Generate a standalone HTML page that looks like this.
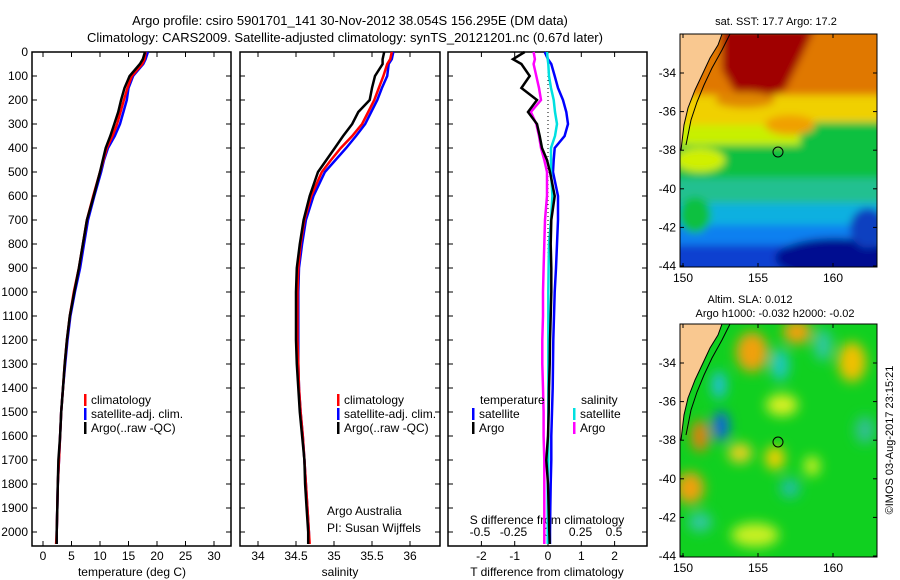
<!DOCTYPE html>
<html><head><meta charset="utf-8">
<style>
body{margin:0;background:#fff;}
svg{display:block;font-family:"Liberation Sans",sans-serif;}
text{fill:#000;}
</style></head>
<body>
<svg id="chart" width="900" height="580" viewBox="0 0 900 580" xmlns="http://www.w3.org/2000/svg">
<defs>
<filter id="blur6" x="-20%" y="-20%" width="140%" height="140%"><feGaussianBlur stdDeviation="6"/></filter>
<filter id="blur4" x="-20%" y="-20%" width="140%" height="140%"><feGaussianBlur stdDeviation="4"/></filter>
<clipPath id="clipA"><rect x="680" y="34" width="197" height="233"/></clipPath>
<clipPath id="clipB"><rect x="680" y="324" width="197" height="233"/></clipPath>
</defs>
<text x="350" y="25" font-size="13" text-anchor="middle">Argo profile: csiro 5901701_141 30-Nov-2012 38.054S 156.295E (DM data)</text>
<text x="345" y="42" font-size="13" text-anchor="middle">Climatology: CARS2009. Satellite-adjusted climatology: synTS_20121201.nc (0.67d later)</text>
<g id="panels"></g>

<!-- SST map -->
<g>
<text x="776" y="25" font-size="11" text-anchor="middle">sat. SST: 17.7 Argo: 17.2</text>
<g clip-path="url(#clipA)">
<rect x="680" y="34" width="197" height="233" fill="#10c8b0"/>
<g filter="url(#blur4)">
<rect x="670" y="20" width="220" height="85" fill="#e07800"/>
<rect x="670" y="95" width="220" height="40" fill="#f0d000"/>
<rect x="670" y="125" width="220" height="20" fill="#c8f000"/>
<rect x="670" y="145" width="220" height="35" fill="#10c040"/>
<rect x="800" y="122" width="90" height="30" fill="#10c040"/>
<rect x="670" y="178" width="220" height="25" fill="#20c090"/>
<rect x="670" y="203" width="220" height="25" fill="#10b0e0"/>
<rect x="670" y="225" width="220" height="25" fill="#1080f0"/>
<rect x="670" y="245" width="220" height="30" fill="#1040d0"/>
<ellipse cx="835" cy="258" rx="60" ry="20" fill="#000a90"/>
<ellipse cx="868" cy="228" rx="18" ry="20" fill="#1040c0"/>
<ellipse cx="695" cy="215" rx="16" ry="18" fill="#10c040"/>
<path d="M722 28 L815 28 L800 60 L785 90 L760 100 L735 92 L722 70 Z" fill="#a00000"/>
<ellipse cx="745" cy="100" rx="30" ry="8" fill="#e08800"/>
<ellipse cx="790" cy="125" rx="25" ry="10" fill="#f0a000"/>
<ellipse cx="700" cy="160" rx="25" ry="12" fill="#d0f000"/>
</g>
<path d="M680 34 L722 34 L718 45 L710 58 L703 73 L695 90 L688 108 L684 125 L681 150 L680 150 Z" fill="#f9c890" stroke="#000" stroke-width="1"/>
<path d="M730 34 L722 50 L712 68 L704 85 L697 102 L691 120 L686 145" fill="none" stroke="#000" stroke-width="1"/>
</g>
<rect x="680" y="34" width="197" height="233" fill="none" stroke="#000"/>
<circle cx="778" cy="152" r="5" fill="none" stroke="#000"/>
</g>

<!-- SLA map -->
<g>
<text x="750" y="303" font-size="11" text-anchor="middle">Altim. SLA: 0.012</text>
<text x="775" y="317" font-size="11" text-anchor="middle">Argo h1000: -0.032 h2000: -0.02</text>
<g clip-path="url(#clipB)">
<rect x="680" y="324" width="197" height="233" fill="#10d020"/>
<g filter="url(#blur6)">
<ellipse cx="752" cy="352" rx="16" ry="20" fill="#f0a010"/>
<ellipse cx="797" cy="332" rx="14" ry="12" fill="#f0a010"/>
<ellipse cx="852" cy="362" rx="14" ry="20" fill="#f0c000"/>
<ellipse cx="780" cy="365" rx="9" ry="16" fill="#20c8c0"/>
<ellipse cx="823" cy="345" rx="9" ry="16" fill="#30c8a0"/>
<ellipse cx="719" cy="385" rx="7" ry="14" fill="#20c0e0"/>
<ellipse cx="721" cy="426" rx="8" ry="15" fill="#1060e0"/>
<ellipse cx="700" cy="436" rx="9" ry="16" fill="#e08010"/>
<ellipse cx="782" cy="405" rx="16" ry="11" fill="#d8f020"/>
<ellipse cx="740" cy="453" rx="12" ry="10" fill="#e8d020"/>
<ellipse cx="775" cy="458" rx="10" ry="12" fill="#f0d000"/>
<ellipse cx="812" cy="466" rx="8" ry="10" fill="#c8f020"/>
<ellipse cx="690" cy="488" rx="14" ry="16" fill="#f0a010"/>
<ellipse cx="790" cy="488" rx="10" ry="10" fill="#20c0a0"/>
<ellipse cx="700" cy="522" rx="12" ry="10" fill="#30c8a0"/>
<ellipse cx="755" cy="535" rx="24" ry="12" fill="#c8f020"/>
<ellipse cx="865" cy="430" rx="10" ry="14" fill="#30c090"/>
</g>
<path d="M680 324 L722 324 L718 335 L710 348 L703 363 L695 380 L688 398 L684 415 L681 440 L680 440 Z" fill="#f9c890" stroke="#000" stroke-width="1"/>
<path d="M730 324 L722 340 L712 358 L704 375 L697 392 L691 410 L686 435" fill="none" stroke="#000" stroke-width="1"/>
</g>
<rect x="680" y="324" width="197" height="233" fill="none" stroke="#000"/>
<circle cx="778" cy="442" r="5" fill="none" stroke="#000"/>
</g>
<text transform="translate(893,440) rotate(-90)" font-size="11" text-anchor="middle">©IMOS 03-Aug-2017 23:15:21</text>
</svg>
<script>
// ---- data ----
const depths = [0,30,50,100,150,200,250,300,350,400,450,500,600,700,800,900,1000,1100,1200,1300,1400,1500,1600,1700,1800,1900,2000,2050];
const tempClim = [18.0,17.8,17.4,15.6,14.8,14.2,13.6,13.0,12.2,11.2,10.6,10.0,8.8,7.7,7.0,6.3,5.4,4.7,4.2,3.8,3.5,3.2,3.0,2.8,2.6,2.5,2.4,2.3];
const tempSat  = [18.4,18.0,17.6,15.8,15.0,14.7,14.1,13.5,12.6,11.4,10.7,10.2,9.0,7.9,7.2,6.5,5.6,4.8,4.3,3.9,3.5,3.2,3.0,2.8,2.6,2.5,2.4,2.4];
const tempArgo = [17.9,17.5,17.0,15.2,14.3,13.7,13.2,12.5,11.8,11.0,10.5,10.0,8.9,7.7,7.0,6.3,5.5,4.7,4.2,3.8,3.5,3.2,3.0,2.7,2.6,2.5,2.4,2.4];
const salClim = [35.76,35.74,35.70,35.65,35.59,35.53,35.45,35.37,35.24,35.09,34.96,34.84,34.70,34.61,34.56,34.53,34.52,34.52,34.52,34.53,34.54,34.56,34.59,34.61,34.63,34.65,34.67,34.68];
const salSat  = [35.78,35.76,35.72,35.70,35.63,35.57,35.49,35.41,35.29,35.16,35.02,34.88,34.73,34.63,34.58,34.54,34.53,34.53,34.53,34.53,34.54,34.56,34.59,34.61,34.63,34.65,34.67,34.67];
const salArgo = [35.66,35.64,35.64,35.54,35.50,35.47,35.32,35.24,35.12,35.01,34.90,34.79,34.68,34.60,34.55,34.51,34.50,34.50,34.50,34.51,34.53,34.55,34.58,34.61,34.62,34.64,34.66,34.66];
const tDiffSat  = [-0.1,0.0,0.1,0.2,0.3,0.45,0.55,0.6,0.5,0.2,0.17,0.15,0.3,0.3,0.27,0.24,0.2,0.18,0.16,0.15,0.14,0.12,0.1,0.1,0.08,0.07,0.06,0.06];
const tDiffArgo = [-0.7,-1.05,-0.8,-0.55,-0.8,-0.33,-0.6,-0.33,-0.25,-0.18,-0.03,0.06,0.2,0.1,0.08,0.1,0.1,0.08,0.06,0.05,0.03,0.02,0.0,-0.05,0.0,0.02,0.04,0.05];
const sDiffSat  = [0.0,0.005,0.01,0.015,0.03,0.05,0.06,0.075,0.06,0.03,0.03,0.03,0.04,0.03,0.015,0.012,0.01,0.01,0.01,0.01,0.01,0.01,0.01,0.01,0.005,0.005,0.005,0.005];
const sDiffArgo = [-0.1,-0.09,-0.1,-0.08,-0.06,-0.045,-0.12,-0.08,-0.06,-0.045,-0.02,0.0,0.0,-0.015,-0.02,-0.025,-0.03,-0.03,-0.035,-0.035,-0.03,-0.025,-0.025,-0.02,-0.02,-0.02,-0.02,-0.02];
const depthTicks = [0,100,200,300,400,500,600,700,800,900,1000,1100,1200,1300,1400,1500,1600,1700,1800,1900,2000];
const tempTicks = [0,5,10,15,20,25,30];
const salTicks = [34,34.5,35,35.5,36];
const tDiffTicks = [-2,-1,0,1,2];
const sDiffTicks = [-0.5,-0.25,0,0.25,0.5];
const latTicks = [-34,-36,-38,-40,-42,-44];
const lonTicks = [150,155,160];

// ---- scales ----
const NS="http://www.w3.org/2000/svg";
const yD = d => 52 + d*0.24;
const xT = v => 43 + v*5.7;
const xS = v => 258 + (v-34)*76;
const xTD = v => 548 + v*33.3;
const xSD = v => 547 + v*134;
const latY1 = l => 73 + (-34 - l)*19.3;
const latY2 = l => 363 + (-34 - l)*19.3;
const lonX = l => 683 + (l-150)*15;
const g = document.getElementById('panels');
const svg = document.getElementById('chart');
function mk(tag, attrs, parent){const e=document.createElementNS(NS,tag);for(const k in attrs)e.setAttribute(k,attrs[k]);(parent||g).appendChild(e);return e;}
function txt(x,y,s,anchor,size,parent){const t=mk('text',{x:x,y:y,'font-size':size||12,'text-anchor':anchor||'middle'},parent);t.textContent=s;return t;}

const panels=[{x0:32,x1:231,name:'temperature-panel'},{x0:240,x1:440,name:'salinity-panel'},{x0:448,x1:647,name:'difference-panel'}];
const yBottom=546;
panels.forEach(p=>{
  const r=mk('rect',{x:p.x0,y:52,width:p.x1-p.x0,height:yBottom-52,fill:'none',stroke:'#000','stroke-width':1.5});
  
  
  depthTicks.forEach(d=>{
    mk('line',{x1:p.x0,x2:p.x0+5,y1:yD(d),y2:yD(d),stroke:'#000'});
    mk('line',{x1:p.x1-5,x2:p.x1,y1:yD(d),y2:yD(d),stroke:'#000'});
  });
});
depthTicks.forEach(d=>{
  const t=txt(28,yD(d)+4,String(d),'end',12);
  
  
});
function xticks(arr,fx,labelY){
  arr.forEach(v=>{
    const x=fx(v);
    mk('line',{x1:x,x2:x,y1:52,y2:57,stroke:'#000'});
    mk('line',{x1:x,x2:x,y1:yBottom-5,y2:yBottom,stroke:'#000'});
    const t=txt(x,labelY,String(v),'middle',12);
    
    
  });
}
xticks(tempTicks,xT,560);
xticks(salTicks,xS,560);
xticks(tDiffTicks,xTD,560);
sDiffTicks.forEach(v=>{
  const t=txt(xSD(v),536,String(v),'middle',12);
  
  
});
let at;
at=txt(132,576,'temperature (deg C)');


at=txt(340,576,'salinity');


at=txt(547,576,'T difference from climatology');


at=txt(547,524,'S difference from climatology');


at=txt(327,515,'Argo Australia','start');


at=txt(327,532,'PI: Susan Wijffels','start');



const zl=mk('line',{x1:xTD(0),x2:xTD(0),y1:yD(0),y2:yD(2050),stroke:'#000','stroke-dasharray':'1,3'});



function series(vals,fx,color,name){
  const pts=vals.map((v,i)=>fx(v).toFixed(1)+','+yD(depths[i]).toFixed(1)).join(' ');
  const pl=mk('polyline',{points:pts,fill:'none',stroke:color,'stroke-width':2.5});
  
  
}
series(tempSat,xT,'#0000ff','temp-satellite-line');
series(tempClim,xT,'#ff0000','temp-climatology-line');
series(tempArgo,xT,'#000','temp-argo-line');
series(salSat,xS,'#0000ff','sal-satellite-line');
series(salClim,xS,'#ff0000','sal-climatology-line');
series(salArgo,xS,'#000','sal-argo-line');
series(tDiffSat,xTD,'#0000ff','tdiff-satellite-line');
series(sDiffSat,xSD,'#00e0e0','sdiff-satellite-line');
series(sDiffArgo,xSD,'#ff00ff','sdiff-argo-line');
series(tDiffArgo,xTD,'#000','tdiff-argo-line');

function legend(x,y,items){
  items.forEach((it,i)=>{
    const yy=y+i*14;
    const m=mk('rect',{x:x,y:yy-10,width:2.5,height:12,fill:it[1]});
    
    
    const t=txt(x+7,yy,it[0],'start',12);
    
    
  });
}
legend(84,404,[['climatology','#f00'],['satellite-adj. clim.','#00f'],['Argo(..raw -QC)','#000']]);
legend(337,404,[['climatology','#f00'],['satellite-adj. clim.','#00f'],['Argo(..raw -QC)','#000']]);
at=txt(480,404,'temperature','start');


at=txt(581,404,'salinity','start');


legend(472,418,[['satellite','#00f'],['Argo','#000']]);
legend(573,418,[['satellite','#00e0e0'],['Argo','#f0f']]);

function mapTicks(latY,yTop,yBot){
  latTicks.forEach(l=>{
    const y=latY(l);
    mk('line',{x1:680,x2:684,y1:y,y2:y,stroke:'#000'},svg);
    mk('line',{x1:873,x2:877,y1:y,y2:y,stroke:'#000'},svg);
    const t=txt(676,y+4,String(l),'end',12,svg);
    
    
  });
  lonTicks.forEach(l=>{
    const x=lonX(l);
    mk('line',{x1:x,x2:x,y1:yTop,y2:yTop+4,stroke:'#000'},svg);
    mk('line',{x1:x,x2:x,y1:yBot-4,y2:yBot,stroke:'#000'},svg);
    const t=txt(x,yBot+15,String(l),'middle',12,svg);
    
    
  });
}
mapTicks(latY1,34,267);
mapTicks(latY2,324,557);
</script>
</body></html>
